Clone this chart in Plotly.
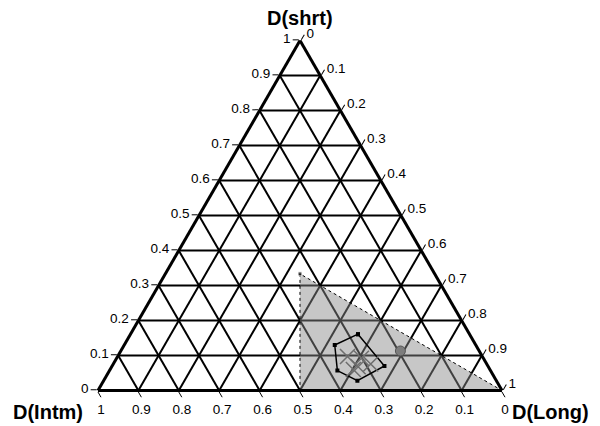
import plotly.graph_objects as go

# Ternary components: a = D(shrt), b = D(Intm), c = D(Long)
region_shrt = [1 / 3, 0.0, 0.0, 1 / 3]
region_intm = [1 / 3, 0.5, 0.0, 1 / 3]
region_long = [1 / 3, 0.5, 1.0, 1 / 3]

hull_shrt = [0.161, 0.130, 0.057, 0.028, 0.070, 0.161]
hull_intm = [0.276, 0.349, 0.379, 0.344, 0.256, 0.276]
hull_long = [0.563, 0.521, 0.564, 0.628, 0.674, 0.563]

sample_shrt = [0.097, 0.092, 0.076, 0.068, 0.060]
sample_intm = [0.334, 0.302, 0.287, 0.322, 0.338]
sample_long = [0.569, 0.606, 0.637, 0.610, 0.602]

mean_shrt = [0.113]
mean_intm = [0.195]
mean_long = [0.692]

axis_titles = ["D(shrt)", "D(Intm)", "D(Long)"]

fig = go.Figure()

fig.add_trace(go.Scatterternary(
    a=region_shrt, b=region_intm, c=region_long,
    mode="lines+markers", fill="toself",
    fillcolor="rgba(137,137,137,0.47)",
    line=dict(color="black", width=1, dash="dot"),
    marker=dict(symbol="square", size=[4, 0, 0, 0], color="black"),
    hoverinfo="skip", showlegend=False,
))

fig.add_trace(go.Scatterternary(
    a=hull_shrt, b=hull_intm, c=hull_long,
    mode="lines+markers",
    line=dict(color="black", width=1.5),
    marker=dict(symbol="square", size=4, color="black"),
    showlegend=False,
))

fig.add_trace(go.Scatterternary(
    a=sample_shrt, b=sample_intm, c=sample_long,
    mode="markers",
    marker=dict(symbol="x-thin-open", size=15, color="#6e6e6e",
                line=dict(width=1.5, color="#6e6e6e")),
    showlegend=False,
))

fig.add_trace(go.Scatterternary(
    a=mean_shrt, b=mean_intm, c=mean_long,
    mode="markers",
    marker=dict(symbol="circle", size=10, color="#7d7d7d",
                line=dict(width=1, color="#555555")),
    showlegend=False,
))

axis_style = dict(
    title=dict(text=""),
    showline=True, linecolor="black", linewidth=3,
    showgrid=True, gridcolor="black", gridwidth=2,
    ticks="outside", ticklen=6, tickwidth=1.2, tickcolor="black",
    tick0=0, dtick=0.1,
    tickfont=dict(family="Liberation Sans, Arial, sans-serif", size=13.5, color="black"),
    layer="above traces",
)

fig.update_layout(
    width=600, height=426,
    margin=dict(l=0, r=0, t=0, b=0),
    paper_bgcolor="white",
    ternary=dict(
        sum=1,
        bgcolor="white",
        domain=dict(x=[0, 1], y=[0.0833, 0.9047]),
        aaxis=axis_style,
        baxis=axis_style,
        caxis=axis_style,
    ),
)

title_font = dict(family="Liberation Sans, Arial, sans-serif", size=20, color="black")
title_pos = [(300, 18), (48, 412), (550, 412)]
for text, (px, py) in zip(axis_titles, title_pos):
    fig.add_annotation(text="<b>%s</b>" % text, x=px / 600, y=1 - py / 426,
                       xref="paper", yref="paper", xanchor="center", yanchor="middle",
                       showarrow=False, font=title_font)

fig.write_html("out.html")
